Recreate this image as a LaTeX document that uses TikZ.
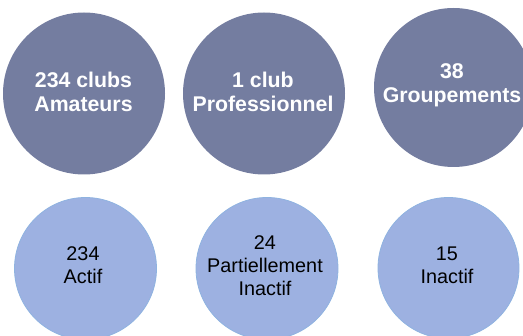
\documentclass[tikz,border=0pt]{standalone}
\usepackage{fontspec}
\setmainfont{Liberation Sans}
\definecolor{darkc}{HTML}{747DA0}
\definecolor{lightc}{HTML}{9DB1E1}
\definecolor{lightb}{HTML}{8FB3E0}
\tikzset{
  bigc/.style={circle, fill=darkc, draw=none, minimum size=#1, inner sep=0pt},
  smallc/.style={circle, fill=lightc, draw=lightb, line width=0.8pt, minimum size=#1, inner sep=0pt},
  bigt/.style={align=center, text=white, font=\fontsize{21.3}{24}\selectfont\bfseries},
  smallt/.style={align=center, text=black, font=\fontsize{19.8}{23}\selectfont}
}
\begin{document}
\begin{tikzpicture}[x=1pt,y=-1pt]
\useasboundingbox (0,0) rectangle (523,336);
\clip (0,0) rectangle (523,336);
\node[bigc=162pt] (a) at (84,93.5) {};
\node[bigc=162pt] (b) at (264,93.5) {};
\node[bigc=159pt] (c) at (453.5,87.5) {};
\node[smallc=142pt] (d) at (85.5,268.5) {};
\node[smallc=142pt] (e) at (267,268.5) {};
\node[smallc=141pt] (f) at (448.5,268) {};
\node[bigt] (ta) at (83.5,92) {234 clubs\\Amateurs};
\node[bigt] (tb) at (263,92) {1 club\\Professionnel};
\node[bigt] (tc) at (452,85.5) {38\\Groupements};
\node[smallt] (td) at (83,265.5) {234\\Actif};
\node[smallt] (te) at (265,266) {24\\Partiellement\\Inactif};
\node[smallt] (tf) at (447,265.5) {15\\Inactif};
\end{tikzpicture}
\end{document}
